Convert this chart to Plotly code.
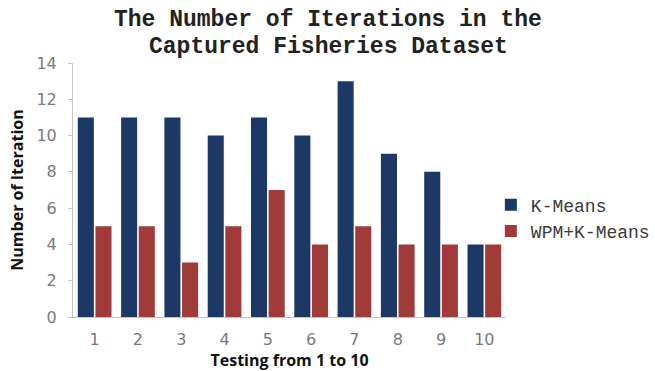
import plotly.graph_objects as go

tests = ["1", "2", "3", "4", "5", "6", "7", "8", "9", "10"]
kmeans = [11, 11, 11, 10, 11, 10, 13, 9, 8, 4]
wpm_kmeans = [5, 5, 3, 5, 7, 4, 5, 4, 4, 4]

title_lines = ["The Number of Iterations in the", "Captured Fisheries Dataset"]

fig = go.Figure()
fig.add_trace(go.Bar(x=tests, y=kmeans, name="K-Means",
                     marker=dict(color="#1b3964", line=dict(width=0))))
fig.add_trace(go.Bar(x=tests, y=wpm_kmeans, name="WPM+K-Means",
                     marker=dict(color="#a13b39", line=dict(width=0))))

# two-line title set as separate annotations for tight line spacing
for line, ypos in zip(title_lines, [1.168, 1.063]):
    fig.add_annotation(text=f"<b>{line}</b>", xref="paper", yref="paper",
                       x=0.589, y=ypos, xanchor="center", yanchor="middle",
                       showarrow=False, height=24,
                       font=dict(family="Liberation Mono", size=23, color="#222222"))

fig.update_layout(
    width=655, height=371,
    margin=dict(l=73, r=149, t=63, b=54, autoexpand=False),
    paper_bgcolor="white", plot_bgcolor="white",
    barmode="group", bargap=0.185, bargroupgap=0.09,
    legend=dict(x=0.965, y=0.39, xanchor="left", yanchor="middle",
                font=dict(family="Liberation Mono", size=18, color="#3a3a3a"),
                itemwidth=30, bgcolor="rgba(0,0,0,0)"),
    showlegend=True,
)
fig.update_xaxes(
    showline=True, linecolor="#c4c4c4", linewidth=1, ticks="",
    showgrid=False, ticklabelstandoff=8,
    tickfont=dict(family="DejaVu Sans", size=16, color="#7a7a7a"),
    title=dict(text="<b>Testing from 1 to 10</b>", standoff=18,
               font=dict(family="Open Sans", size=16, color="#111111")),
)
fig.update_yaxes(
    range=[0, 14], dtick=2, showline=True, linecolor="#c4c4c4", linewidth=1,
    ticks="outside", ticklen=4, tickcolor="#c4c4c4", showgrid=False, zeroline=False,
    ticklabelstandoff=8,
    tickfont=dict(family="DejaVu Sans", size=16, color="#7a7a7a"),
    title=dict(text="<b>Number of Iteration</b>", standoff=8,
               font=dict(family="Open Sans", size=16, color="#111111")),
)

fig.write_html("out.html")
